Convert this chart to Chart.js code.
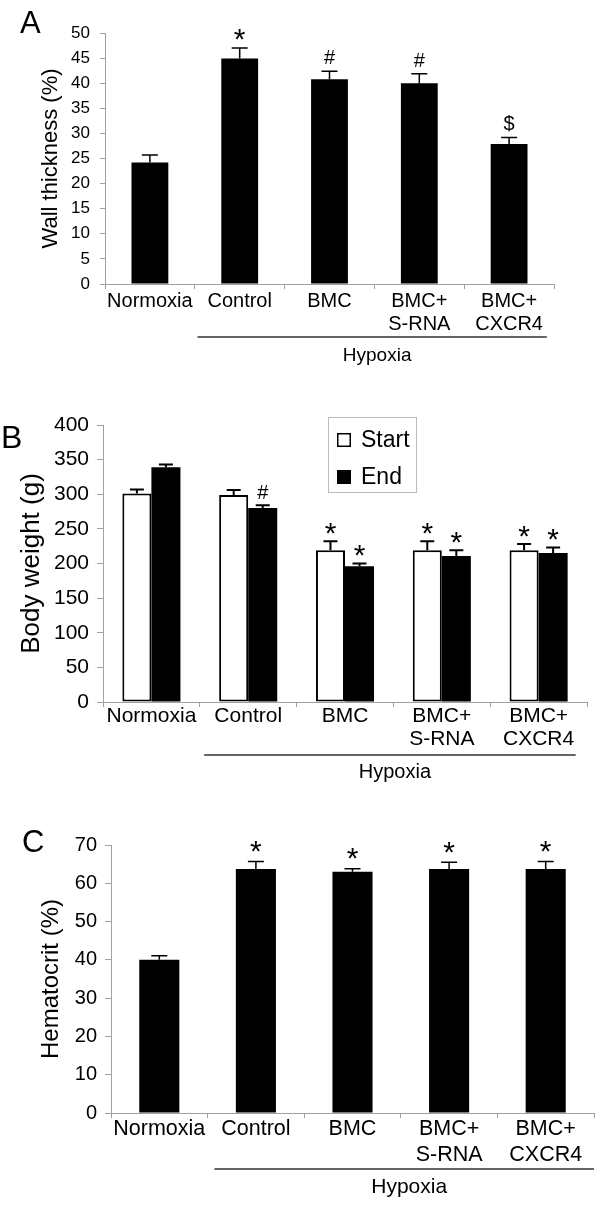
<!DOCTYPE html>
<html><head><meta charset="utf-8">
<script src="https://cdn.jsdelivr.net/npm/chart.js@4.4.1/dist/chart.umd.min.js"></script>
<style>
html,body{margin:0;padding:0;background:#fff;width:600px;height:1206px;overflow:hidden}
.panel{position:absolute;left:0;width:600px}
canvas{display:block}
</style></head><body>
<div class="panel" style="top:0;height:380px"><canvas id="cA"></canvas></div>
<div class="panel" style="top:380px;height:420px"><canvas id="cB"></canvas></div>
<div class="panel" style="top:800px;height:406px"><canvas id="cC"></canvas></div>
<script>
// ---------- data ----------
const categories = ['Normoxia', 'Control', 'BMC', ['BMC+', 'S-RNA'], ['BMC+', 'CXCR4']];
const groupLabel = 'Hypoxia';

const wallThickness = [24.2, 44.9, 40.8, 40.0, 27.9];
const wallErr       = [1.5, 2.1, 1.6, 1.9, 1.3];
const wallMarks     = ['', '*', '#', '#', '$'];
const wallTicks     = {min: 0, max: 50, step: 5};

const bodyStart     = [301, 299, 219, 219, 219];
const bodyStartErr  = [6, 7, 13, 13, 9];
const bodyStartMarks= ['', '', '*', '*', '*'];
const bodyEnd       = [339, 280, 196, 211, 215];
const bodyEndErr    = [4, 4, 4, 8, 8];
const bodyEndMarks  = ['', '#', '*', '*', '*'];
const bodyTicks     = {min: 0, max: 400, step: 50};

const hematocrit    = [40.0, 63.7, 63.0, 63.7, 63.7];
const hematocritErr = [1.1, 2.0, 0.8, 1.8, 2.0];
const hematocritMarks = ['', '*', '*', '*', '*'];
const hctTicks      = {min: 0, max: 70, step: 10};

// ---------- styling ----------
const FONT = '"Liberation Sans", Arial, Helvetica, sans-serif';
const AXIS = '#a0a0a0';
Chart.defaults.font.family = FONT;
Chart.defaults.color = '#000';

function makePlugin(cfg) {
  return {
    id: 'annot' + cfg.letter,
    afterDatasetsDraw(chart) {
      const ctx = chart.ctx, ys = chart.scales.y;
      cfg.series.forEach((s, di) => {
        const meta = chart.getDatasetMeta(di);
        meta.data.forEach((bar, i) => {
          const yt = ys.getPixelForValue(s.values[i] + s.errors[i]);
          ctx.save();
          ctx.strokeStyle = '#000';
          ctx.lineWidth = cfg.errWidth;
          ctx.beginPath();
          ctx.moveTo(bar.x, bar.y);
          ctx.lineTo(bar.x, yt);
          ctx.moveTo(bar.x - cfg.cap / 2, yt);
          ctx.lineTo(bar.x + cfg.cap / 2, yt);
          ctx.stroke();
          const m = s.marks[i];
          if (m) {
            ctx.font = (m === '*' ? cfg.starSize : cfg.symSize) + 'px ' + FONT;
            ctx.textAlign = 'center';
            ctx.textBaseline = 'alphabetic';
            ctx.fillStyle = '#000';
            const mt = ctx.measureText(m);
            const cy = yt - cfg.gap;
            ctx.fillText(m, bar.x, cy + (mt.actualBoundingBoxAscent - mt.actualBoundingBoxDescent) / 2);
          }
          ctx.restore();
        });
      });
    },
    afterDraw(chart) {
      const ctx = chart.ctx, xs = chart.scales.x, ca = chart.chartArea;
      ctx.save();
      // panel letter
      ctx.font = cfg.letterSize + 'px ' + FONT;
      ctx.fillStyle = '#000';
      ctx.textAlign = 'left';
      ctx.textBaseline = 'alphabetic';
      ctx.fillText(cfg.letter, cfg.letterX, cfg.letterY);
      // group bracket
      const cw = xs.width / categories.length;
      const x1 = xs.getPixelForValue(1) - cfg.hypL * cw;
      const x2 = xs.getPixelForValue(categories.length - 1) + cfg.hypR * cw;
      const yl = ca.bottom + cfg.hypY;
      ctx.strokeStyle = '#333';
      ctx.lineWidth = 1.5;
      ctx.beginPath();
      ctx.moveTo(x1, yl); ctx.lineTo(x2, yl);
      ctx.stroke();
      ctx.font = cfg.labelSize + 'px ' + FONT;
      ctx.textAlign = 'center';
      ctx.textBaseline = 'middle';
      ctx.fillText(groupLabel, (x1 + x2) / 2 + 5, yl + cfg.hypText);
      // legend
      if (cfg.legend) {
        const L = cfg.legend;
        const lx = ca.left + L.dx, ly = ca.top + L.dy;
        ctx.strokeStyle = '#bbb';
        ctx.lineWidth = 1;
        ctx.strokeRect(lx + 0.5, ly + 0.5, L.w, L.h);
        ctx.font = L.size + 'px ' + FONT;
        ctx.textAlign = 'left';
        chart.data.datasets.forEach((ds, k) => {
          const cy = ly + L.first + k * L.step;
          ctx.fillStyle = ds.backgroundColor;
          ctx.fillRect(lx + 9, cy - 7, 14, 14);
          ctx.strokeStyle = '#000';
          ctx.lineWidth = 1.5;
          ctx.strokeRect(lx + 9.75, cy - 6.25, 12.5, 12.5);
          ctx.fillStyle = '#000';
          ctx.fillText(ds.label, lx + 33, cy + 1);
        });
      }
      ctx.restore();
    }
  };
}

function makeChart(id, p) {
  return new Chart(document.getElementById(id), {
    type: 'bar',
    data: { labels: categories, datasets: p.datasets },
    options: {
      responsive: true,
      maintainAspectRatio: false,
      animation: false,
      events: [],
      layout: { padding: { top: p.top, right: p.right, left: 0, bottom: 0 } },
      plugins: { legend: { display: false }, tooltip: { enabled: false } },
      scales: {
        x: {
          grid: { offset: true, drawOnChartArea: false, drawTicks: true, tickLength: 5, color: AXIS, lineWidth: 1 },
          border: { color: AXIS, width: 1 },
          ticks: { autoSkip: false, maxRotation: 0, minRotation: 0, padding: p.xPad,
                   font: { size: p.xFont, lineHeight: p.xLine }, color: '#000' },
          afterFit: s => { s.height = p.xHeight; }
        },
        y: {
          min: p.ticks.min, max: p.ticks.max,
          grid: { drawOnChartArea: false, drawTicks: true, tickLength: p.yTick, color: AXIS },
          border: { color: AXIS, width: 1 },
          ticks: { stepSize: p.ticks.step, padding: p.yPad, font: { size: p.yFont }, color: '#000' },
          title: { display: true, text: p.title, font: { size: p.titleSize }, color: '#000',
                   padding: { top: p.titlePad, bottom: 0 } },
          afterFit: s => { s.width = p.yWidth; }
        }
      }
    },
    plugins: [makePlugin(p.annot)]
  });
}

// Panel A
makeChart('cA', {
  datasets: [{ label: 'Wall thickness', data: wallThickness, backgroundColor: '#000',
               borderWidth: 0, categoryPercentage: 0.41, barPercentage: 1.0 }],
  top: 33, right: 46, yWidth: 105, xHeight: 96, ticks: wallTicks,
  xFont: 20, xLine: 1.15, xPad: 1, yFont: 17, yPad: 10, yTick: 5,
  title: 'Wall thickness (%)', titleSize: 22, titlePad: 38,
  annot: { letter: 'A', letterX: 20, letterY: 33, letterSize: 31,
           series: [{ values: wallThickness, errors: wallErr, marks: wallMarks }],
           errWidth: 1.5, cap: 16, gap: 14, starSize: 30, symSize: 20,
           hypL: 0.47, hypR: 0.42, hypY: 53, hypText: 19, labelSize: 19 }
});

// Panel B
makeChart('cB', {
  datasets: [
    { label: 'Start', data: bodyStart, backgroundColor: '#ffffff', borderColor: '#000',
      borderWidth: 2, borderSkipped: false, categoryPercentage: 0.6, barPercentage: 1.0 },
    { label: 'End', data: bodyEnd, backgroundColor: '#000000', borderColor: '#000',
      borderWidth: 0, categoryPercentage: 0.6, barPercentage: 1.0 }
  ],
  top: 45, right: 13, yWidth: 103, xHeight: 98, ticks: bodyTicks,
  xFont: 21, xLine: 1.1, xPad: -2, yFont: 21, yPad: 8, yTick: 6,
  title: 'Body weight (g)', titleSize: 26, titlePad: 16,
  annot: { letter: 'B', letterX: 1, letterY: 68, letterSize: 32,
           series: [{ values: bodyStart, errors: bodyStartErr, marks: bodyStartMarks },
                    { values: bodyEnd, errors: bodyEndErr, marks: bodyEndMarks }],
           errWidth: 2, cap: 14, gap: 13, starSize: 30, symSize: 20,
           hypL: 0.455, hypR: 0.383, hypY: 53, hypText: 17, labelSize: 20,
           legend: { dx: 225, dy: -8, w: 88, h: 75, size: 23, first: 23, step: 37 } }
});

// Panel C
makeChart('cC', {
  datasets: [{ label: 'Hematocrit', data: hematocrit, backgroundColor: '#000',
               borderWidth: 0, categoryPercentage: 0.415, barPercentage: 1.0 }],
  top: 45, right: 6, yWidth: 111, xHeight: 93, ticks: hctTicks,
  xFont: 21.5, xLine: 1.17, xPad: -1, yFont: 20, yPad: 8, yTick: 6,
  title: 'Hematocrit (%)', titleSize: 24, titlePad: 37,
  annot: { letter: 'C', letterX: 22, letterY: 52, letterSize: 31,
           series: [{ values: hematocrit, errors: hematocritErr, marks: hematocritMarks }],
           errWidth: 1.5, cap: 16, gap: 15, starSize: 30, symSize: 20,
           hypL: 0.43, hypR: 0.5, hypY: 56, hypText: 18, labelSize: 21 }
});
</script>
</body></html>
